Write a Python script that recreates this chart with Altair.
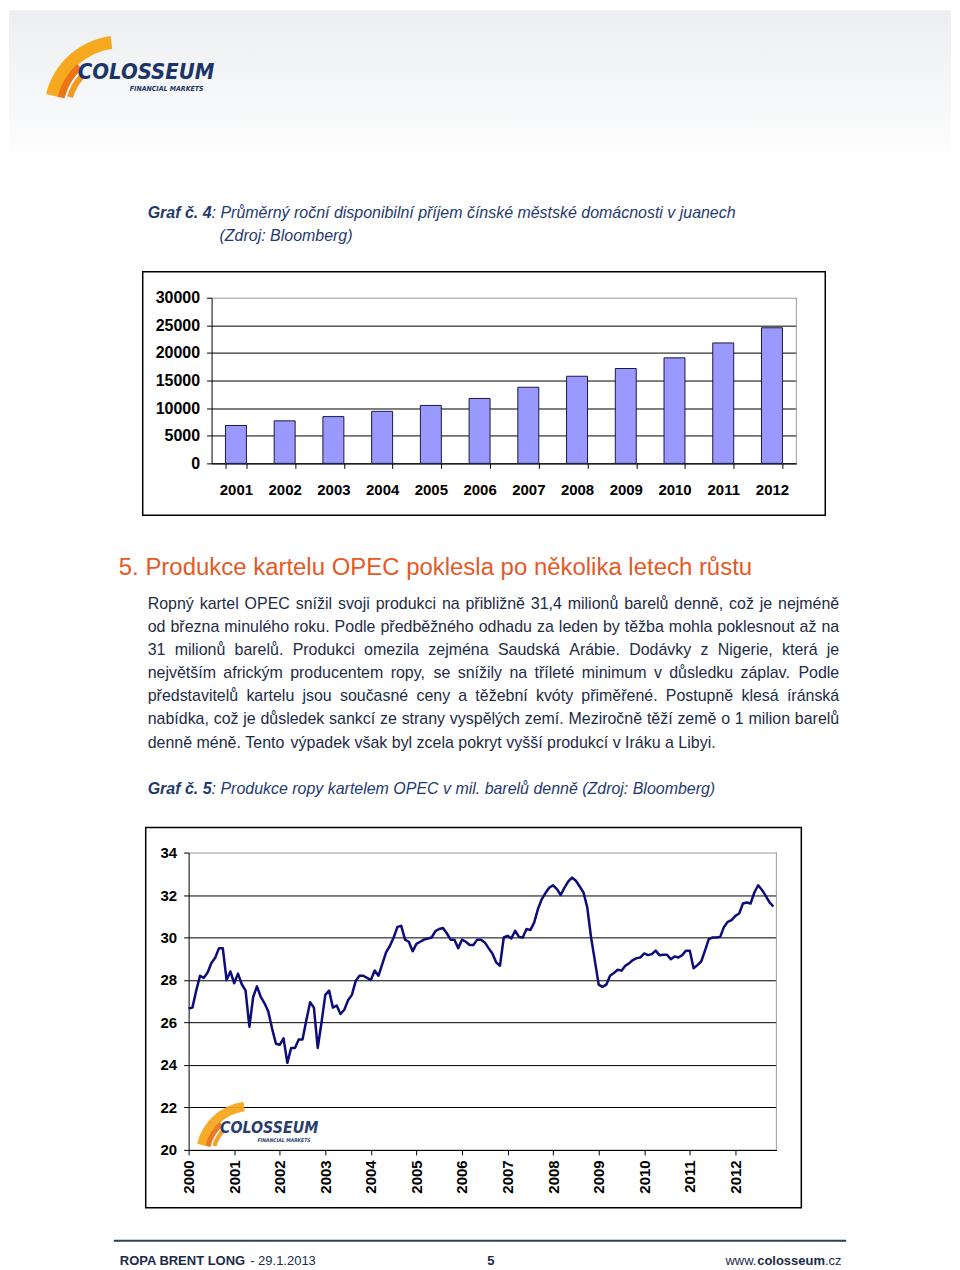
import altair as alt
import pandas as pd

# ---------------- data ----------------
YEARS_1 = ["2001", "2002", "2003", "2004", "2005", "2006",
           "2007", "2008", "2009", "2010", "2011", "2012"]
INCOME = [6860, 7700, 8470, 9420, 10490, 11760,
          13790, 15780, 17180, 19110, 21810, 24560]
Y1_TICKS = [0, 5000, 10000, 15000, 20000, 25000, 30000]

# OPEC production, monthly from Jan 2000 (mil. barrels per day)
OPEC = [
    26.66, 26.7, 27.5, 28.2, 28.1, 28.35, 28.8, 29.05, 29.5, 29.5,
    28.0, 28.4, 27.85, 28.3, 27.8, 27.5, 25.8, 27.2, 27.7, 27.2,
    26.9, 26.5, 25.7, 25.0, 24.95, 25.25, 24.1, 24.8, 24.8, 25.2,
    25.2, 26.1, 26.95, 26.7, 24.8, 26.0, 27.3, 27.5, 26.7, 26.8,
    26.4, 26.6, 27.05, 27.3, 27.95, 28.2, 28.2, 28.1, 28.0, 28.45,
    28.2, 28.75, 29.3, 29.6, 30.0, 30.5, 30.55, 29.9, 29.8, 29.35,
    29.7, 29.8, 29.9, 29.95, 30.0, 30.3, 30.4, 30.45, 30.2, 29.9,
    29.9, 29.5, 29.9, 29.8, 29.65, 29.65, 29.9, 29.9, 29.77, 29.5,
    29.25, 28.83, 28.67, 30.0, 30.08, 29.96, 30.32, 30.03, 30.0, 30.4,
    30.35, 30.7, 31.34, 31.8, 32.1, 32.35, 32.46, 32.28, 32.0, 32.35,
    32.64, 32.82, 32.67, 32.4, 32.12, 31.41, 30.0, 28.9, 27.78, 27.68,
    27.78, 28.2, 28.33, 28.48, 28.44, 28.67, 28.78, 28.94, 29.03, 29.06,
    29.25, 29.17, 29.22, 29.38, 29.17, 29.19, 29.19, 28.98, 29.11, 29.06,
    29.17, 29.38, 29.38, 28.55, 28.7, 28.87, 29.38, 29.92, 30.0, 30.0,
    30.03, 30.5, 30.74, 30.82, 31.02, 31.13, 31.6, 31.65, 31.6, 32.12,
    32.46, 32.24, 31.96, 31.65, 31.46,
]
YEAR_LABELS_2 = ["2000", "2001", "2002", "2003", "2004", "2005", "2006",
                 "2007", "2008", "2009", "2010", "2011", "2012"]
Y2_TICKS = [20, 22, 24, 26, 28, 30, 32, 34]

TITLE_4A = "Graf č. 4"
TITLE_4B = ": Průměrný roční disponibilní příjem čínské městské domácnosti v juanech"
TITLE_4C = "(Zdroj: Bloomberg)"
HEADING = "5. Produkce kartelu OPEC poklesla po několika letech růstu"
PARA = [
    "Ropný kartel OPEC snížil svoji produkci na přibližně 31,4 milionů barelů denně, což je nejméně",
    "od března minulého roku. Podle předběžného odhadu za leden by těžba mohla poklesnout až na",
    "31 milionů barelů. Produkci omezila zejména Saudská Arábie. Dodávky z Nigerie, která je",
    "největším africkým producentem ropy, se snížily na tříleté minimum v důsledku záplav. Podle",
    "představitelů kartelu jsou současné ceny a těžební kvóty přiměřené. Postupně klesá íránská",
    "nabídka, což je důsledek sankcí ze strany vyspělých zemí. Meziročně těží země o 1 milion barelů",
    "denně méně. Tento výpadek však byl zcela pokryt vyšší produkcí v Iráku a Libyi.",
]
TITLE_5A = "Graf č. 5"
TITLE_5B = ": Produkce ropy kartelem OPEC v mil. barelů denně (Zdroj: Bloomberg)"

# ---------------- styling ----------------
FONT = "Liberation Sans"
LOGO_FONT = "DejaVu Sans Condensed, Liberation Sans"
NAVY = "#1f3a70"
PARA_COL = "#1e2b45"
ORANGE = "#e45a26"
LOGO_NAVY = "#1b3566"
PAGE_W = 944
DUMMY = pd.DataFrame({"k": [0]})

# Arial/Helvetica advance widths (per 1000 em) for justification
_CH = (" !\"#$%&'()*+,-./0123456789:;<=>?@ABCDEFGHIJKLMNOPQRSTUVWXYZ[\\]^_`"
       "abcdefghijklmnopqrstuvwxyz")
_WD = ([278, 278, 355, 556, 556, 889, 667, 191, 333, 333, 389, 584, 278, 333, 278, 278]
       + [556] * 10 + [278, 278, 584, 584, 584, 556, 1015]
       + [667, 667, 722, 722, 667, 611, 778, 722, 278, 500, 667, 556, 833, 722, 778,
          667, 778, 722, 667, 611, 722, 667, 944, 667, 667, 611]
       + [278, 278, 278, 469, 556, 333]
       + [556, 556, 500, 556, 556, 278, 556, 556, 222, 222, 500, 222, 833, 556, 556,
          556, 556, 333, 500, 278, 556, 500, 722, 500, 500, 500])
WIDTHS = dict(zip(_CH, _WD))
WIDTHS.update({"í": 278, "ď": 615, "ť": 375})
_TR = str.maketrans("áäčćéěňóöřšúůýžÁČĎÉĚÍŇÓŘŠŤÚŮÝŽ",
                    "aacceenoorsuuyzACDEEINORSTUUYZ")


def tw(s, size):
    tot = 0
    for ch in s:
        if ch in WIDTHS:
            tot += WIDTHS[ch]
        else:
            tot += WIDTHS.get(ch.translate(_TR), 556)
    return tot * size / 1000.0


def txt(x, y, s, size=16, weight="normal", style="normal", color="black",
        align="left", font=FONT, baseline="middle", opacity=1.0):
    return alt.Chart(DUMMY).mark_text(
        text=s, fontSize=size, fontWeight=weight, fontStyle=style, color=color,
        align=align, baseline=baseline, font=font, opacity=opacity,
    ).encode(x=alt.value(x), y=alt.value(y))


def arc(cx, cy, r_in, r_out, t1, t2, color, opacity=1.0):
    return alt.Chart(DUMMY).mark_arc(
        radius=r_out, radius2=r_in, theta=t1, theta2=t2, color=color, opacity=opacity,
    ).encode(x=alt.value(cx), y=alt.value(cy))


def logo(x0, yc, s, opacity=1.0):
    """Colosseum logo: text left edge x0, vertical centre yc, scale s."""
    cx, cy = x0 + 45 * s, yc + 40 * s
    return [
        arc(cx, cy, 64 * s, 77 * s, 4.95, 6.15, "#f6a81e", opacity),
        arc(cx, cy, 58 * s, 65 * s, 4.95, 5.55, "#ea7416", opacity),
        arc(cx, cy, 50 * s, 56 * s, 5.0, 5.45, "#f39a1e", opacity),
        txt(x0 + 2 * s, yc, "COLOSSEUM", size=22 * s, weight="bold", style="italic",
            color=LOGO_NAVY, font=LOGO_FONT, opacity=opacity),
        txt(x0 + 128 * s, yc + 17 * s, "FINANCIAL MARKETS", size=7 * s,
            weight="bold", style="italic", color=LOGO_NAVY, align="right",
            font=LOGO_FONT, opacity=opacity),
    ]


# ---------------- header panel ----------------
grad = alt.Chart(DUMMY).mark_rect(
    color=alt.Gradient(gradient="linear",
                       stops=[alt.GradientStop(color="#eceef1", offset=0),
                              alt.GradientStop(color="#ffffff", offset=1)],
                       x1=0, x2=0, y1=0, y2=1)
).encode(x=alt.value(0), x2=alt.value(PAGE_W), y=alt.value(0), y2=alt.value(157))

header = alt.layer(
    grad,
    *logo(67, 62, 1.0),
    txt(139, 203, TITLE_4A, weight="bold", style="italic", color=NAVY),
    txt(203, 203, TITLE_4B, style="italic", color=NAVY),
    txt(211, 226, TITLE_4C, style="italic", color=NAVY),
).properties(width=PAGE_W, height=288)

# ---------------- chart 1 (bars) ----------------
X1L, X1R = 203, 789
df1 = pd.DataFrame({"year": YEARS_1, "income": INCOME})
bars = alt.Chart(df1).mark_bar(color="#9999ff", stroke="#1a1a40", strokeWidth=1).encode(
    x=alt.X("year:N", sort=YEARS_1, title=None,
            scale=alt.Scale(range=[X1L, X1R], paddingInner=0.57, paddingOuter=0.285),
            axis=alt.Axis(labelAngle=0, tickBand="extent", tickSize=5,
                          labelPadding=21, labelBaseline="middle", grid=False)),
    y=alt.Y("income:Q", title=None,
            scale=alt.Scale(domain=[0, 30000], nice=False),
            axis=alt.Axis(values=Y1_TICKS, format="d", tickSize=5, labelPadding=7,
                          labelFontSize=16, offset=-X1L, grid=True,
                          gridColor={"condition": {"test": "datum.value === 30000",
                                                   "value": "#9a9a9a"},
                                     "value": "black"})),
)
border1 = alt.Chart(DUMMY).mark_rule(color="#9a9a9a", strokeWidth=1).encode(
    x=alt.value(X1R), y=alt.value(0), y2=alt.value(166))
frame1 = alt.Chart(DUMMY).mark_rect(fillOpacity=0, stroke="black", strokeWidth=1.5).encode(
    x=alt.value(134), x2=alt.value(818), y=alt.value(-26), y2=alt.value(218))
chart1 = alt.layer(border1, bars, frame1).properties(width=PAGE_W, height=166)

# ---------------- middle text panel ----------------
rows = []
line_y = [141, 164, 187, 210, 233, 256, 280]
for i, ln in enumerate(PARA):
    words = ln.split(" ")
    wds = [tw(w, 16) for w in words]
    if i < len(PARA) - 1:
        gap = (693 - sum(wds)) / (len(words) - 1)
    else:
        gap = tw(" ", 16)
    x = 139.0
    for w, wd in zip(words, wds):
        rows.append({"x": x, "y": line_y[i], "w": w})
        x += wd + gap
words_df = pd.DataFrame(rows)
para = alt.Chart(words_df).mark_text(
    align="left", baseline="middle", fontSize=16, font=FONT, color=PARA_COL
).encode(x=alt.X("x:Q", scale=None), y=alt.Y("y:Q", scale=None), text="w:N")

middle = alt.layer(
    txt(110, 105, HEADING, size=24, color=ORANGE),
    para,
    txt(139, 326, TITLE_5A, weight="bold", style="italic", color=NAVY),
    txt(203, 326, TITLE_5B, style="italic", color=NAVY),
).properties(width=PAGE_W, height=390)

# ---------------- chart 2 (line) ----------------
X2L, X2R = 180, 769
df2 = pd.DataFrame({"m": list(range(len(OPEC))), "v": OPEC})
lbl_arr = "[" + ",".join("'%s'" % y for y in YEAR_LABELS_2) + "]"
line = alt.Chart(df2).mark_line(color="#0c0c7a", strokeWidth=2.5, strokeJoin="round").encode(
    x=alt.X("m:Q", title=None,
            scale=alt.Scale(domain=[0, 154.8], range=[X2L, X2R], nice=False, zero=False),
            axis=alt.Axis(values=[12 * i for i in range(len(YEAR_LABELS_2))],
                          labelExpr=lbl_arr + "[round(datum.value / 12)]",
                          labelAngle=270, labelAlign="right", labelBaseline="middle",
                          labelFlush=False, labelOverlap=False,
                          tickSize=5, labelPadding=5, grid=False)),
    y=alt.Y("v:Q", title=None,
            scale=alt.Scale(domain=[20, 34], nice=False, zero=False),
            axis=alt.Axis(values=Y2_TICKS, tickSize=5, labelPadding=7, offset=-X2L,
                          grid=True,
                          gridColor={"condition": {"test": "datum.value === 34",
                                                   "value": "#9a9a9a"},
                                     "value": "black"})),
)
border2 = alt.Chart(DUMMY).mark_rule(color="#9a9a9a", strokeWidth=1).encode(
    x=alt.value(X2R), y=alt.value(0), y2=alt.value(298))
frame2 = alt.Chart(DUMMY).mark_rect(fillOpacity=0, stroke="black", strokeWidth=1.5).encode(
    x=alt.value(137), x2=alt.value(794), y=alt.value(-25), y2=alt.value(356))
chart2 = alt.layer(border2, *logo(X2L + 30, 276, 0.72, 0.95), line, frame2).properties(
    width=PAGE_W, height=298)

# ---------------- footer ----------------
FOOT = "#1b2a4a"
footer = alt.layer(
    alt.Chart(DUMMY).mark_rule(color="#2f3f5f", strokeWidth=2).encode(
        x=alt.value(105), x2=alt.value(839), y=alt.value(91)),
    txt(111, 111, "ROPA BRENT LONG", size=13, weight="bold", color=FOOT),
    txt(111 + 127.1 + tw(" ", 13), 111, "- 29.1.2013", size=13, color=FOOT),
    txt(483, 111, "5", size=13, weight="bold", color=FOOT, align="center"),
    txt(718, 111, "www.", size=13, color=FOOT),
    txt(749.8, 111, "colosseum", size=13, weight="bold", color=FOOT),
    txt(817.7, 111, ".cz", size=13, color=FOOT),
).properties(width=PAGE_W, height=112)

chart = alt.vconcat(header, chart1, middle, chart2, footer, spacing=0, bounds="flush").properties(
    padding=0
).configure_view(
    stroke="transparent"
).configure_axis(
    labelFont=FONT, labelFontWeight="bold", labelFontSize=15, labelColor="black",
    domainColor="black", tickColor="black", gridColor="black", gridOpacity=1,
    domainWidth=1, tickWidth=1, gridWidth=1,
)

chart.save("out.html", embed_options={"renderer": "svg", "actions": False})
